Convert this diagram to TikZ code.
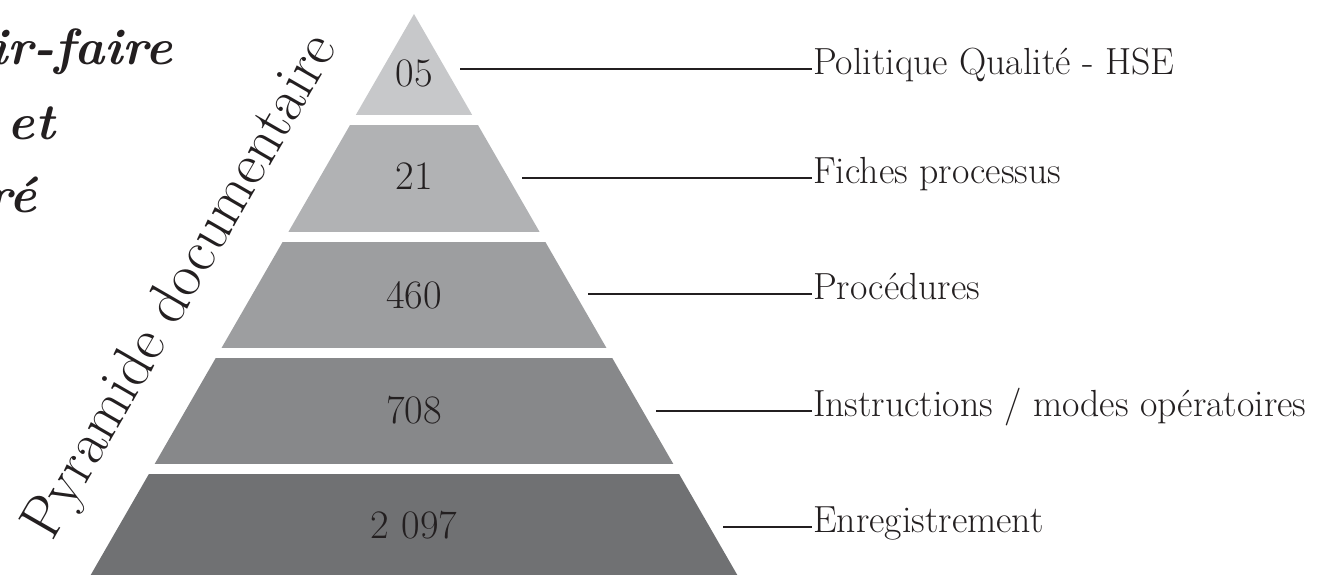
\documentclass[tikz,border=0pt]{standalone}
\usepackage{fontspec}
\usepackage{tikz}
\definecolor{mygray1}{RGB}{199,200,202}
\definecolor{mygray2}{RGB}{177,178,180}
\definecolor{mygray3}{RGB}{157,158,160}
\definecolor{mygray4}{RGB}{135,136,138}
\definecolor{mygray5}{RGB}{112,113,115}
\definecolor{myink}{RGB}{35,31,32}

\begin{document}
\begin{tikzpicture}[
        num/.style={font=\fontsize{23}{27}\selectfont, text=myink},
        lbl/.style={anchor=west, inner xsep=0.5pt, text height=0.66em, text depth=0pt,
            font=\fontsize{21.5}{25}\selectfont, text=myink},
        lead/.style={line width=1.1pt, myink},
        head/.style={anchor=base east, inner sep=0pt, text=myink,
            font=\fontsize{29}{33}\selectfont\bfseries\itshape}
    ]
    \useasboundingbox (0, 0) rectangle (26.34, 11.48);
    \clip (0, 0) rectangle (26.34, 11.48);
    \begin{scope}
        % Pyramid tiers
        \clip (8.28, 11.2) -- (1.71, -0.2) -- (14.85, -0.2) -- cycle;
        \foreach \lo/\hi/\col in {9.18/11.3/mygray1, 6.84/8.98/mygray2, 4.52/6.64/mygray3,
                2.2/4.32/mygray4, -0.3/2.0/mygray5}
            \fill[\col] (0, \lo) rectangle (16, \hi);
    \end{scope}
    % Document counts
    \node[num] (n1) at (8.28, 10.02) {05};
    \node[num] (n2) at (8.28, 7.95) {21};
    \node[num] (n3) at (8.28, 5.58) {460};
    \node[num] (n4) at (8.28, 3.28) {708};
    \node[num] (n5) at (8.28, 0.98) {2 097};
    % Document types
    \node[lbl] (L1) at (16.24, 10.1) {Politique Qualité - HSE};
    \node[lbl] (L2) at (16.24, 7.92) {Fiches processus};
    \node[lbl] (L3) at (16.24, 5.6) {Procédures};
    \node[lbl] (L4) at (16.24, 3.26) {Instructions / modes opératoires};
    \node[lbl] (L5) at (16.24, 0.94) {Enregistrement};
    % Leader lines
    \coordinate (s1) at (9.2, 10.1);
    \coordinate (s2) at (10.44, 7.92);
    \coordinate (s3) at (11.76, 5.6);
    \coordinate (s4) at (13.12, 3.26);
    \coordinate (s5) at (14.46, 0.94);
    \foreach \i in {1,...,5}
        \draw[lead] (s\i) -- (L\i.west);
    % Title along the left side
    \node[anchor=base west, rotate=60, inner sep=0pt, text=myink,
        font=\fontsize{34}{40}\selectfont] (title) at (1.04, 0.62) {Pyramide documentaire};
    % Heading cut off at the left edge
    \node[head] (h1) at (3.46, 10.18) {ir-faire};
    \node[head] (h2) at (1.1, 8.68) {et};
    \node[head] (h3) at (0.74, 7.22) {ré};
\end{tikzpicture}
\end{document}
